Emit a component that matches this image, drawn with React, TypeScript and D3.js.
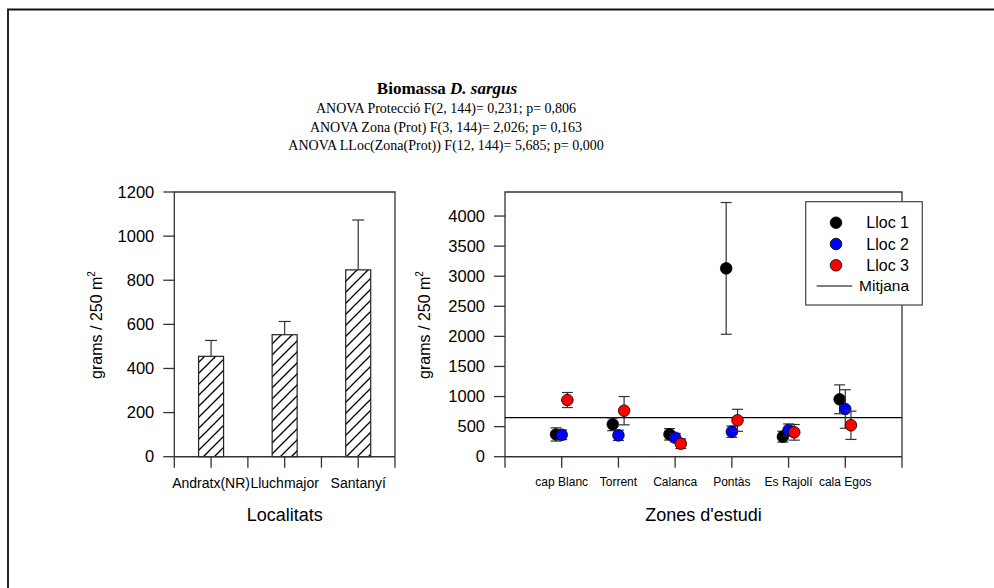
import * as d3 from "d3";

const width = 994;
const height = 588;

// left panel: biomass by locality
const localitats = ["Andratx(NR)", "Lluchmajor", "Santanyí"];
const biomassaLocalitat = [455, 553, 847];
const errLocalitat = [72, 60, 226];
const leftTicks = [0, 200, 400, 600, 800, 1000, 1200];

// right panel: biomass by zone and site
const zones = ["cap Blanc", "Torrent", "Calanca", "Pontàs", "Es Rajolí", "cala Egos"];
const lloc1 = [370, 538, 372, 3130, 333, 954];
const lloc1Err = [110, 105, 95, 1095, 90, 240];
const lloc2 = [364, 355, 316, 416, 444, 793];
const lloc2Err = [80, 85, 70, 94, 100, 320];
const lloc3 = [942, 765, 216, 605, 405, 522];
const lloc3Err = [125, 235, 80, 183, 130, 235];
const mitjana = 650;
const rightTicks = [0, 500, 1000, 1500, 2000, 2500, 3000, 3500, 4000];

const series = [
  { name: "Lloc 1", values: lloc1, errs: lloc1Err, color: "#000000", offset: -0.1 },
  { name: "Lloc 2", values: lloc2, errs: lloc2Err, color: "#0000ff", offset: 0 },
  { name: "Lloc 3", values: lloc3, errs: lloc3Err, color: "#ff0000", offset: 0.1 },
];

const sans = "'Liberation Sans', Arial, sans-serif";
const serif = "'Liberation Serif', 'Times New Roman', serif";
const axisColor = "#333";

const yZero = 456.7;
const yTop = 192;

function YLabel({ x, y }: { x: number; y: number }) {
  return (
    <text
      transform={`translate(${x},${y}) rotate(-90)`}
      textAnchor="middle"
      fontFamily={sans}
      fontSize={16}
      fill="#000"
    >
      grams / 250 m<tspan dy={-7} fontSize={10}>2</tspan>
    </text>
  );
}

function LeftChart() {
  const x = d3.scaleLinear().domain([0, 6]).range([174.3, 395]);
  const y = d3.scaleLinear().domain([0, 1200]).range([yZero, yTop]);
  const barW = 25;
  return (
    <g>
      <defs>
        <pattern id="hatch" patternUnits="userSpaceOnUse" width={11} height={11}>
          <path d="M-1,12 L12,-1 M-4,4 L4,-4 M7,15 L15,7" stroke="#000" strokeWidth={1.3} />
        </pattern>
      </defs>
      {localitats.map((name, i) => {
        const cx = x(i * 2 + 1);
        const top = y(biomassaLocalitat[i]);
        const errTop = y(biomassaLocalitat[i] + errLocalitat[i]);
        return (
          <g key={name}>
            <line x1={cx} x2={cx} y1={top} y2={errTop} stroke={axisColor} strokeWidth={1.2} />
            <line x1={cx - 6} x2={cx + 6} y1={errTop} y2={errTop} stroke={axisColor} strokeWidth={1.2} />
            <rect
              x={cx - barW / 2}
              y={top}
              width={barW}
              height={yZero - top}
              fill="url(#hatch)"
              stroke="#222"
              strokeWidth={1.2}
            />
            <text x={cx} y={488} textAnchor="middle" fontFamily={sans} fontSize={14}>
              {name}
            </text>
          </g>
        );
      })}
      {/* frame */}
      <path
        d={`M${x(0)},${y(0)} L${x(0)},${yTop} L${x(6)},${yTop} L${x(6)},${y(0)}`}
        fill="none"
        stroke={axisColor}
        strokeWidth={1.3}
      />
      <line x1={x(0)} x2={x(6)} y1={yZero} y2={yZero} stroke={axisColor} strokeWidth={1.5} />
      {d3.range(0, 7).map((t) => (
        <line key={t} x1={x(t)} x2={x(t)} y1={yZero} y2={yZero + 11} stroke={axisColor} strokeWidth={1.3} />
      ))}
      {leftTicks.map((t) => (
        <g key={t}>
          <line x1={x(0) - 11} x2={x(0)} y1={y(t)} y2={y(t)} stroke={axisColor} strokeWidth={1.3} />
          <text x={x(0) - 20} y={y(t)} dy="0.35em" textAnchor="end" fontFamily={sans} fontSize={16.5}>
            {t}
          </text>
        </g>
      ))}
      <YLabel x={102} y={325} />
      <text x={(x(0) + x(6)) / 2} y={521} textAnchor="middle" fontFamily={sans} fontSize={18}>
        Localitats
      </text>
    </g>
  );
}

function RightChart() {
  const x = d3.scaleLinear().domain([0, 7]).range([505, 902]);
  const y = d3.scaleLinear().domain([0, 4400]).range([yZero, yTop]);
  const cap = 5.5;
  const r = 5.8;
  return (
    <g>
      <path
        d={`M${x(0)},${y(0)} L${x(0)},${yTop} L${x(7)},${yTop} L${x(7)},${y(0)}`}
        fill="none"
        stroke={axisColor}
        strokeWidth={1.3}
      />
      <line x1={x(0)} x2={x(7)} y1={yZero} y2={yZero} stroke={axisColor} strokeWidth={1.5} />
      {d3.range(0, 8).map((t) => (
        <line key={t} x1={x(t)} x2={x(t)} y1={yZero} y2={yZero + 11} stroke={axisColor} strokeWidth={1.3} />
      ))}
      {rightTicks.map((t) => (
        <g key={t}>
          <line x1={x(0) - 11} x2={x(0)} y1={y(t)} y2={y(t)} stroke={axisColor} strokeWidth={1.3} />
          <text x={x(0) - 20} y={y(t)} dy="0.35em" textAnchor="end" fontFamily={sans} fontSize={16.5}>
            {t}
          </text>
        </g>
      ))}
      {zones.map((z, i) => (
        <text key={z} x={x(i + 1)} y={486} textAnchor="middle" fontFamily={sans} fontSize={12}>
          {z}
        </text>
      ))}
      <line x1={x(0)} x2={x(7)} y1={y(mitjana)} y2={y(mitjana)} stroke="#000" strokeWidth={1.2} />
      {series.map((s) => (
        <g key={s.name}>
          {s.values.map((v, i) => {
            const cx = x(i + 1 + s.offset);
            const hi = y(v + s.errs[i]);
            const lo = y(v - s.errs[i]);
            return (
              <g key={i}>
                <line x1={cx} x2={cx} y1={hi} y2={lo} stroke={axisColor} strokeWidth={1.2} />
                <line x1={cx - cap} x2={cx + cap} y1={hi} y2={hi} stroke={axisColor} strokeWidth={1.2} />
                <line x1={cx - cap} x2={cx + cap} y1={lo} y2={lo} stroke={axisColor} strokeWidth={1.2} />
                <circle cx={cx} cy={y(v)} r={r} fill={s.color} stroke="#000" strokeWidth={0.8} />
              </g>
            );
          })}
        </g>
      ))}
      {/* legend */}
      <g>
        <rect x={805.7} y={201.7} width={116.6} height={103.3} fill="#fff" stroke="#444" strokeWidth={1.2} />
        {series.map((s, i) => (
          <g key={s.name}>
            <circle cx={836} cy={222.7 + i * 21.3} r={r} fill={s.color} stroke="#000" strokeWidth={0.8} />
            <text x={909} y={222.7 + i * 21.3} dy="0.35em" textAnchor="end" fontFamily={sans} fontSize={16}>
              {s.name}
            </text>
          </g>
        ))}
        <line x1={816.7} x2={852.3} y1={286} y2={286} stroke="#000" strokeWidth={1.2} />
        <text x={909} y={286} dy="0.35em" textAnchor="end" fontFamily={sans} fontSize={15.5}>
          Mitjana
        </text>
      </g>
      <YLabel x={430} y={325} />
      <text x={(x(0) + x(7)) / 2} y={521} textAnchor="middle" fontFamily={sans} fontSize={18}>
        Zones d'estudi
      </text>
    </g>
  );
}

export default function App() {
  return (
    <svg
      width={width}
      height={height}
      style={{ position: "absolute", left: 0, top: 0, background: "#fff" }}
    >
      <rect x={0} y={0} width={width} height={height} fill="#fff" />
      <path d={`M8,${height} L8,9.5 L${width},9.5`} fill="none" stroke="#111" strokeWidth={1.8} />
      <g fontFamily={serif} textAnchor="middle">
        <text x={447} y={94} fontSize={17} fontWeight="bold">
          Biomassa <tspan fontStyle="italic">D. sargus</tspan>
        </text>
        <text x={446} y={113} fontSize={14}>
          ANOVA Protecció F(2, 144)= 0,231; p= 0,806
        </text>
        <text x={446} y={131.5} fontSize={14}>
          ANOVA Zona (Prot) F(3, 144)= 2,026; p= 0,163
        </text>
        <text x={446} y={149.5} fontSize={14}>
          ANOVA LLoc(Zona(Prot)) F(12, 144)= 5,685; p= 0,000
        </text>
      </g>
      <LeftChart />
      <RightChart />
    </svg>
  );
}
